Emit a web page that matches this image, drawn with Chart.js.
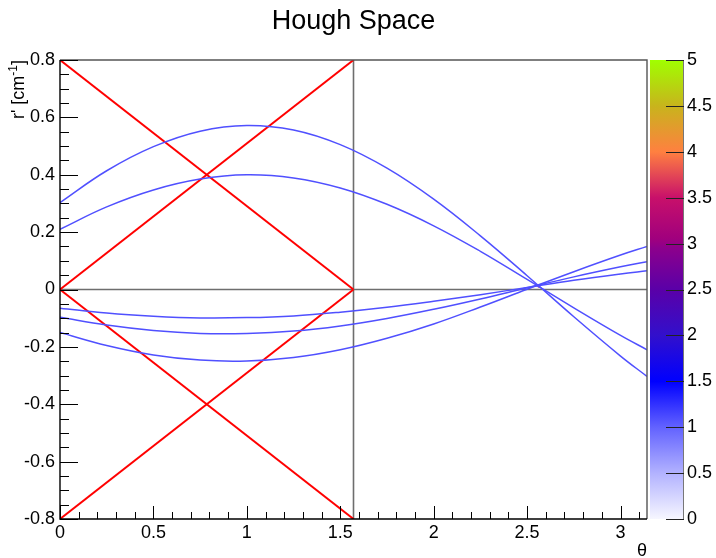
<!DOCTYPE html>
<html>
<head>
<meta charset="utf-8">
<script src="https://cdn.jsdelivr.net/npm/chart.js@4/dist/chart.umd.min.js"></script>
<style>
  html, body { margin: 0; padding: 0; background: #fff; }
  #c { display: block; }
</style>
</head>
<body>
<canvas id="c" width="716" height="558"></canvas>
<script>
// Sampled angles (rad) and the Hough-space curve r'(θ) of each hit
const theta  = [0, 0.25, 0.5, 0.75, 1.0, 1.25, 1.5, 1.75, 2.0, 2.25, 2.5, 2.75, 3.0, 3.1416];
const curveA = [0.303, 0.414, 0.498, 0.552, 0.572, 0.556, 0.505, 0.423, 0.315, 0.187, 0.048, -0.095, -0.232, -0.303];
const curveB = [0.210, 0.288, 0.347, 0.385, 0.400, 0.389, 0.354, 0.297, 0.222, 0.133, 0.035, -0.064, -0.160, -0.210];
const curveC = [-0.065, -0.082, -0.093, -0.099, -0.098, -0.092, -0.079, -0.062, -0.041, -0.018, 0.007, 0.032, 0.054, 0.065];
const curveD = [-0.097, -0.124, -0.143, -0.153, -0.153, -0.145, -0.127, -0.101, -0.069, -0.033, 0.006, 0.044, 0.079, 0.097];
const curveE = [-0.150, -0.195, -0.228, -0.246, -0.249, -0.237, -0.210, -0.170, -0.120, -0.061, 0.001, 0.062, 0.120, 0.150];
const houghCurves = [curveA, curveB, curveC, curveD, curveE];

// Common crossing point of the curves
const crossTheta = [2.563];
const crossR     = [0.012];

// Boundary lines of the accepted region (θ, r' end points)
const boundTheta = [0, 1.5708];
const boundLines = [
  [0.8, 0.0],
  [0.0, 0.8],
  [0.0, -0.8],
  [-0.8, 0.0]
];

// Reference lines
const zeroLineR   = 0;
const halfPiTheta = 1.5708;

// Axis ticks
const xTicks = [0, 0.5, 1, 1.5, 2, 2.5, 3];
const yTicks = [-0.8, -0.6, -0.4, -0.2, 0, 0.2, 0.4, 0.6, 0.8];
const zTicks = [0, 0.5, 1, 1.5, 2, 2.5, 3, 3.5, 4, 4.5, 5];

const FONT = '"Liberation Sans", Arial, Helvetica, sans-serif';
const BLUE = '#5050ff';

const datasets = [];
houghCurves.forEach(c => {
  datasets.push({
    data: theta.map((t, i) => ({ x: t, y: c[i] })),
    showLine: true, borderColor: BLUE, borderWidth: 1.5,
    pointRadius: 0, tension: 0.4, fill: false
  });
});
datasets.push({
  data: crossTheta.map((t, i) => ({ x: t, y: crossR[i] })),
  showLine: false, pointRadius: 1.6, pointBorderWidth: 0,
  pointBackgroundColor: '#a0207a'
});
boundLines.forEach(l => {
  datasets.push({
    data: boundTheta.map((t, i) => ({ x: t, y: l[i] })),
    showLine: true, borderColor: '#ff0000', borderWidth: 2,
    pointRadius: 0, tension: 0, fill: false
  });
});

function fmt(v) {
  const r = Math.round(v * 10) / 10;
  return (Object.is(r, -0) ? 0 : r).toString();
}

const decor = {
  id: 'decor',
  beforeDatasetsDraw(chart) {
    const { ctx, chartArea: a, scales: { x, y } } = chart;
    ctx.save();
    ctx.strokeStyle = '#6e6e6e';
    ctx.lineWidth = 1.6;
    const y0 = y.getPixelForValue(zeroLineR);
    ctx.beginPath(); ctx.moveTo(a.left, y0); ctx.lineTo(a.right, y0); ctx.stroke();
    const xh = x.getPixelForValue(halfPiTheta);
    ctx.beginPath(); ctx.moveTo(xh, a.top); ctx.lineTo(xh, a.bottom); ctx.stroke();
    ctx.restore();
  },
  afterDatasetsDraw(chart) {
    const { ctx, chartArea: a, scales: { x, y } } = chart;
    ctx.save();
    // frame
    ctx.strokeStyle = '#555';
    ctx.lineWidth = 1.4;
    ctx.beginPath();
    ctx.moveTo(a.left, a.top); ctx.lineTo(a.right, a.top); ctx.lineTo(a.right, a.bottom);
    ctx.stroke();
    ctx.strokeStyle = '#000';
    ctx.beginPath();
    ctx.moveTo(a.left, a.top); ctx.lineTo(a.left, a.bottom); ctx.lineTo(a.right, a.bottom);
    ctx.stroke();
    // y ticks (inside)
    ctx.lineWidth = 1;
    ctx.beginPath();
    for (let i = -16; i <= 16; i++) {
      const v = i * 0.05;
      const p = Math.round(y.getPixelForValue(v)) + 0.5;
      const len = (i % 4 === 0) ? 18 : 9;
      ctx.moveTo(a.left, p); ctx.lineTo(a.left + len, p);
    }
    // x ticks (inside)
    for (let i = 0; i <= 31; i++) {
      const v = i * 0.1;
      const p = Math.round(x.getPixelForValue(v)) + 0.5;
      const len = (i % 5 === 0) ? 13 : 7;
      ctx.moveTo(p, a.bottom); ctx.lineTo(p, a.bottom - len);
    }
    ctx.stroke();
    ctx.restore();
  },
  afterDraw(chart) {
    const { ctx, chartArea: a, scales: { z } } = chart;
    ctx.save();
    // title
    ctx.fillStyle = '#000';
    ctx.font = '27px ' + FONT;
    ctx.textAlign = 'center';
    ctx.textBaseline = 'alphabetic';
    ctx.fillText('Hough Space', (a.left + a.right) / 2, 29);

    // x title
    ctx.font = '18px ' + FONT;
    ctx.textAlign = 'right';
    ctx.fillText('θ', a.right, 556);

    // y title: r' [cm^-1], rotated, ending at the top of the axis
    ctx.save();
    ctx.translate(24, a.top);
    ctx.rotate(-Math.PI / 2);
    const big = '18px ' + FONT, small = '12px ' + FONT;
    const p1 = "r' [cm", p2 = '-1', p3 = ']';
    ctx.font = big; const w1 = ctx.measureText(p1).width, w3 = ctx.measureText(p3).width;
    ctx.font = small; const w2 = ctx.measureText(p2).width;
    let xs = -(w1 + w2 + w3);
    ctx.textAlign = 'left';
    ctx.font = big; ctx.fillText(p1, xs, 0); xs += w1;
    ctx.font = small; ctx.fillText(p2, xs, -7); xs += w2;
    ctx.font = big; ctx.fillText(p3, xs, 0);
    ctx.restore();

    // colour palette
    const bx0 = z.left + 3, bx1 = z.left + 36;
    const top = z.getPixelForValue(5), bot = z.getPixelForValue(0);
    const g = ctx.createLinearGradient(0, bot, 0, top);
    const stops = [
      [0.00, '#f6f6ff'], [0.10, '#b2b2ff'], [0.20, '#6262ff'], [0.30, '#0000ff'],
      [0.40, '#3210cc'], [0.50, '#5a00a8'], [0.59, '#8c008c'], [0.61, '#a0007e'],
      [0.70, '#c8106a'], [0.80, '#ff8040'], [0.90, '#c8b41c'], [1.00, '#a0ff00']
    ];
    stops.forEach(s => g.addColorStop(s[0], s[1]));
    ctx.fillStyle = g;
    ctx.fillRect(bx0, top, bx1 - bx0, bot - top);
    ctx.strokeStyle = '#777';
    ctx.lineWidth = 1;
    ctx.beginPath(); ctx.moveTo(bx1 + 0.5, top); ctx.lineTo(bx1 + 0.5, bot); ctx.stroke();
    ctx.strokeStyle = '#222';
    ctx.beginPath();
    zTicks.forEach(v => {
      const p = Math.round(z.getPixelForValue(v)) + 0.5;
      ctx.moveTo(bx1 - 17, p); ctx.lineTo(bx1 + 1, p);
    });
    ctx.stroke();
    ctx.restore();
  }
};

const tickFont = { family: FONT, size: 18 };

new Chart(document.getElementById('c'), {
  type: 'scatter',
  data: { datasets },
  options: {
    responsive: false,
    animation: false,
    devicePixelRatio: 1,
    layout: { padding: { top: 60, left: 0, right: 0, bottom: 0 } },
    plugins: { legend: { display: false }, tooltip: { enabled: false }, title: { display: false } },
    scales: {
      x: {
        type: 'linear', min: 0, max: Math.PI,
        afterBuildTicks: s => { s.ticks = xTicks.map(v => ({ value: v })); },
        afterFit: s => { s.height = 39; },
        grid: { display: false, drawTicks: false },
        border: { display: false },
        ticks: { font: tickFont, color: '#000', padding: 3, maxRotation: 0, autoSkip: false, callback: v => fmt(v) }
      },
      y: {
        type: 'linear', min: -0.8, max: 0.8,
        afterBuildTicks: s => { s.ticks = yTicks.map(v => ({ value: v })); },
        afterFit: s => { s.width = 60; },
        grid: { display: false, drawTicks: false },
        border: { display: false },
        ticks: { font: tickFont, color: '#000', padding: 5, autoSkip: false, callback: v => fmt(v) }
      },
      z: {
        axis: 'y', type: 'linear', position: 'right', min: 0, max: 5,
        afterBuildTicks: s => { s.ticks = zTicks.map(v => ({ value: v })); },
        afterFit: s => { s.width = 69; },
        grid: { display: false, drawTicks: true, tickLength: 36 },
        border: { display: false },
        ticks: { font: tickFont, color: '#000', padding: 4, autoSkip: false, callback: v => String(v) }
      }
    }
  },
  plugins: [decor]
});
</script>
</body>
</html>
